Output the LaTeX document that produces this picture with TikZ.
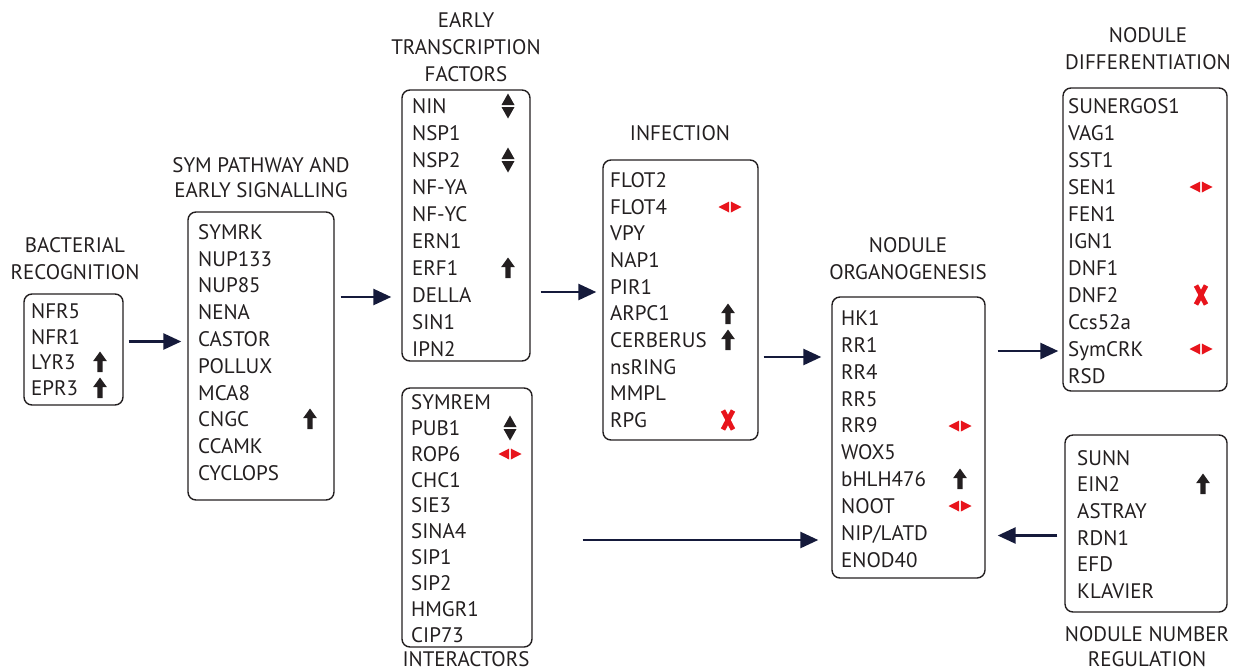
\documentclass[tikz,border=0pt]{standalone}
\usepackage{fontspec}
\setmainfont{PT Sans}
\usetikzlibrary{arrows.meta,fit,calc}
\definecolor{ink}{HTML}{231F20}
\definecolor{navy}{HTML}{151A3B}
\definecolor{redmark}{HTML}{E8141C}

\tikzset{
  box/.style={draw=ink, line width=1.4pt, rounded corners=8pt, inner sep=0pt},
  item/.style={anchor=west, inner sep=0pt, text height=14.7pt, text depth=0pt,
    font=\fontsize{21}{25}\selectfont, text=ink},
  ttl/.style={inner sep=0pt, text height=14.7pt, text depth=0pt,
    font=\fontsize{21}{25}\selectfont, text=ink},
  conn/.style={draw=navy, line width=2.6pt, -{Triangle[length=18pt,width=16pt]}},
  uparrow/.pic={\fill[ink] (0,-10.5) -- (6.8,-1) -- (2.7,-1) -- (2.7,10) -- (-2.7,10)
      -- (-2.7,-1) -- (-6.8,-1) -- cycle;},
  updown/.pic={\fill[ink] (0,-12.5) -- (6.5,-1) -- (-6.5,-1) -- cycle;
      \fill[ink] (0,12.5) -- (6.5,1) -- (-6.5,1) -- cycle;},
  leftright/.pic={\fill[redmark] (-11.5,0) -- (-0.8,-5.5) -- (-0.8,5.5) -- cycle;
      \fill[redmark] (11.5,0) -- (0.8,-5.5) -- (0.8,5.5) -- cycle;},
  knockout/.pic={\draw[redmark, line width=4.8pt] (-5,-9.5) -- (5,9.5) (5,-9.5) -- (-5,9.5);}
}

% name, left x, first line y, line step, entries
\newcommand\genelist[5]{%
  \foreach \t [count=\i] in {#5}
    \node[item] (#1-\i) at (#2, {#3+(\i-1)*#4}) {\t};}

\begin{document}
\begin{tikzpicture}[x=1pt,y=-1pt]
\useasboundingbox (0,0) rectangle (1233,670);

% ---- boxes ----
\node[box, fit={(24,294) (123,405)}] (br) {};
\node[box, fit={(188,212) (334,500)}] (sym) {};
\node[box, fit={(402,90) (530,361)}] (etf) {};
\node[box, fit={(402,388) (532,647)}] (inter) {};
\node[box, fit={(603,160) (758,440)}] (inf) {};
\node[box, fit={(832,297) (985,578)}] (org) {};
\node[box, fit={(1063,88) (1227,391)}] (diff) {};
\node[box, fit={(1065,435) (1227,612)}] (reg) {};

% ---- titles ----
\node[ttl] (t-br1) at (75,245) {BACTERIAL};
\node[ttl] (t-br2) at (75,272) {RECOGNITION};
\node[ttl] (t-sym1) at (261,165) {SYM PATHWAY AND};
\node[ttl] (t-sym2) at (261,190) {EARLY SIGNALLING};
\node[ttl] (t-etf1) at (466,20) {EARLY};
\node[ttl] (t-etf2) at (466,47) {TRANSCRIPTION};
\node[ttl] (t-etf3) at (466,74) {FACTORS};
\node[ttl] (t-inf) at (680,133) {INFECTION};
\node[ttl] (t-int) at (466,659) {INTERACTORS};
\node[ttl] (t-org1) at (908,245) {NODULE};
\node[ttl] (t-org2) at (908,272) {ORGANOGENESIS};
\node[ttl] (t-dif1) at (1148,35) {NODULE};
\node[ttl] (t-dif2) at (1148,62) {DIFFERENTIATION};
\node[ttl] (t-reg1) at (1147,634) {NODULE NUMBER};
\node[ttl] (t-reg2) at (1147,659) {REGULATION};

% ---- gene lists ----
\genelist{br}{31}{311.5}{25.5}{NFR5,NFR1,LYR3,EPR3}
\genelist{sym}{198}{232}{26.8}{SYMRK,NUP133,NUP85,NENA,CASTOR,POLLUX,MCA8,CNGC,CCAMK,CYCLOPS}
\genelist{etf}{412}{106}{27}{NIN,NSP1,NSP2,NF-YA,NF-YC,ERN1,ERF1,DELLA,SIN1,IPN2}
\genelist{int}{411}{402}{25.9}{SYMREM,PUB1,ROP6,CHC1,SIE3,SINA4,SIP1,SIP2,HMGR1,CIP73}
\genelist{inf}{610}{180}{26.7}{FLOT2,FLOT4,VPY,NAP1,PIR1,ARPC1,CERBERUS,nsRING,MMPL,RPG}
\genelist{org}{841}{318}{26.9}{HK1,RR1,RR4,RR5,RR9,WOX5,bHLH476,NOOT,NIP/LATD,ENOD40}
\genelist{dif}{1068}{106}{27}{SUNERGOS1,VAG1,SST1,SEN1,FEN1,IGN1,DNF1,DNF2,Ccs52a,SymCRK,RSD}
\genelist{reg}{1077}{458}{26.6}{SUNN,EIN2,ASTRAY,RDN1,EFD,KLAVIER}

% ---- marks ----
\pic at (100,362) {uparrow};
\pic at (100,388) {uparrow};
\pic at (310,419) {uparrow};
\pic at (508,106) {updown};
\pic at (508,160) {updown};
\pic at (508,268) {uparrow};
\pic at (510,428) {updown};
\pic at (510,454) {leftright};
\pic at (730,207) {leftright};
\pic at (728,314) {uparrow};
\pic at (728,340) {uparrow};
\pic at (728,420) {knockout};
\pic at (960,426) {leftright};
\pic at (960,479) {uparrow};
\pic at (960,506) {leftright};
\pic at (1201,187) {leftright};
\pic at (1201,295) {knockout};
\pic at (1201,349) {leftright};
\pic at (1203,484) {uparrow};

% ---- connectors ----
\draw[conn, shorten <=5pt, shorten >=6pt] ([yshift=8pt]br.east) -- ([yshift=8pt]br.east -| sym.west);
\draw[conn, shorten <=6pt, shorten >=10pt] ([yshift=59pt]sym.east) -- ([yshift=59pt]sym.east -| etf.west);
\draw[conn, shorten <=10pt, shorten >=6pt] ([yshift=-66.5pt]etf.east) -- ([yshift=-66.5pt]etf.east -| inf.west);
\draw[conn, shorten <=5pt, shorten >=10pt] ([yshift=-57pt]inf.east) -- ([yshift=-57pt]inf.east -| org.west);
\draw[conn, shorten <=12pt, shorten >=4pt] ([yshift=86.5pt]org.east) -- ([yshift=86.5pt]org.east -| diff.west);
\draw[conn, shorten <=7pt, shorten >=12pt] ([yshift=-12pt]reg.west) -- ([yshift=-12pt]reg.west -| org.east);
\draw[conn, shorten <=50pt, shorten >=13pt] ([yshift=-22.5pt]inter.east) -- ([yshift=-22.5pt]inter.east -| org.west);
\end{tikzpicture}
\end{document}
